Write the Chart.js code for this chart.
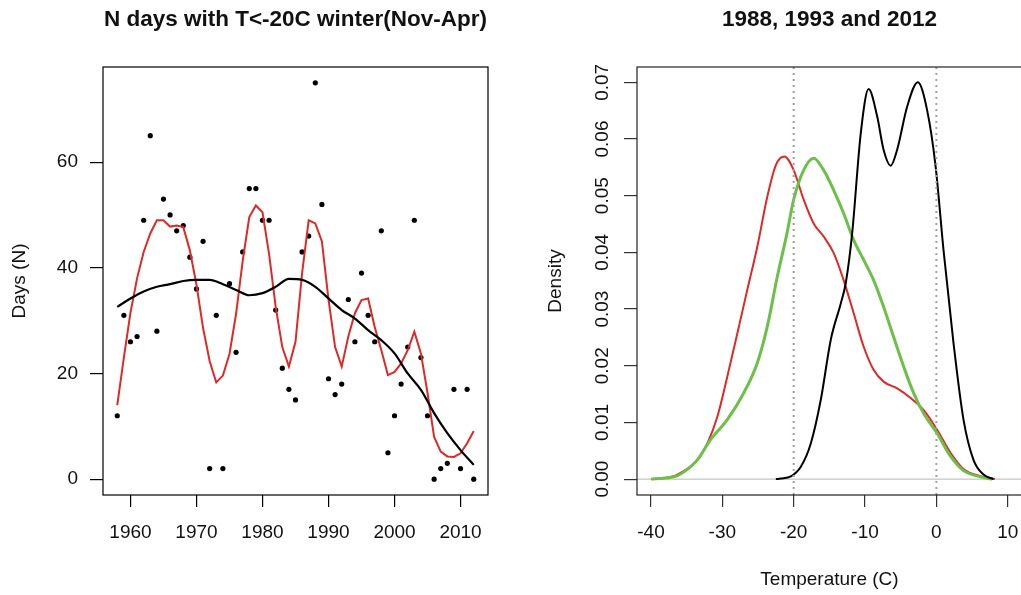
<!DOCTYPE html>
<html>
<head>
<meta charset="utf-8">
<script src="https://cdn.jsdelivr.net/npm/chart.js@4.4.0/dist/chart.umd.min.js"></script>
<style>
    html, body { margin: 0; padding: 0; background: #fff; overflow: hidden; width: 1021px; height: 595px; }
    #left { position: absolute; left: 0; top: 0; width: 510px; height: 595px; }
    #right { position: absolute; left: 510px; top: 0; width: 540px; height: 595px; }
</style>
</head>
<body>
<div id="left"><canvas id="daysChart"></canvas></div>
<div id="right"><canvas id="densityChart"></canvas></div>
<script>
// Left panel: days below -20C per winter
const years = [1958, 1959, 1960, 1961, 1962, 1963, 1964, 1965, 1966, 1967, 1968, 1969, 1970, 1971, 1972, 1973, 1974, 1975, 1976, 1977,
    1978, 1979, 1980, 1981, 1982, 1983, 1984, 1985, 1986, 1987, 1988, 1989, 1990, 1991, 1992, 1993, 1994, 1995, 1996, 1997,
    1998, 1999, 2000, 2001, 2002, 2003, 2004, 2005, 2006, 2007, 2008, 2009, 2010, 2011, 2012];
const coldDays = [12, 31, 26, 27, 49, 65, 28, 53, 50, 47, 48, 42, 36, 45, 2, 31, 2, 37, 24, 43,
    55, 55, 49, 49, 32, 21, 17, 15, 43, 46, 75, 52, 19, 16, 18, 34, 26, 39, 31, 26,
    47, 5, 12, 18, 25, 49, 23, 12, 0, 2, 3, 17, 2, 17, 0];
const smoothDays = [14, 23, 31.5, 38, 43, 46.5, 49, 49, 47.8, 48, 47.7, 43.3, 36.8, 28.6, 22.3, 18.3, 19.6, 23.7, 31.3, 41.3,
    49.6, 51.8, 50.5, 42.6, 32.6, 25, 21.3, 26, 39, 49, 48.4, 45, 34, 25, 21.3, 27, 31.4, 33.9, 34.2, 28.8,
    24.4, 19.7, 20.3, 21.9, 24.4, 27.9, 23.8, 16.3, 8, 5.2, 4.3, 4.2, 4.9, 6.8, 9.1];
const trendYears = [1958, 1960, 1962, 1964, 1966, 1968, 1970, 1972, 1974, 1976, 1978, 1980, 1982, 1984,
    1986, 1988, 1990, 1992, 1994, 1996, 1998, 2000, 2002, 2004, 2006, 2008, 2010, 2012];
const trendDays = [32.6, 34.2, 35.5, 36.4, 36.9, 37.5, 37.7, 37.7, 36.9, 35.8, 34.8, 35.2, 36.4, 37.9,
    37.7, 36.4, 34.2, 32, 30.4, 28.2, 26.3, 23.8, 20, 16.9, 12.5, 8.7, 5.5, 2.7];
const yearTicks = [1960, 1970, 1980, 1990, 2000, 2010];
const dayTicks = [0, 20, 40, 60];

// Right panel: temperature densities
const redTemps = [-40, -38, -36.3, -33.5, -32.1, -30.7, -29.3, -27.9, -26.5, -25.1, -23.7, -22.5, -21.3, -20, -18.6, -17.2,
    -15.8, -14.4, -13, -11.6, -10.2, -8.8, -7.4, -5.5, -3.6, -1.8, 0.1, 2, 3.8, 6.2, 8.2];
const redDensity = [0, 0.0002, 0.0008, 0.0034, 0.0063, 0.011, 0.0181, 0.0257, 0.0334, 0.041, 0.0498, 0.0554, 0.0569, 0.0545, 0.0493, 0.0451,
    0.0428, 0.0399, 0.0351, 0.0293, 0.0234, 0.0193, 0.0172, 0.016, 0.0143, 0.0122, 0.0087, 0.0046, 0.0018, 0.0005, 0];
const greenTemps = [-40, -38, -36.3, -33.5, -31.7, -29.3, -27, -25.1, -23.7, -22.3, -21, -20, -18.6, -17.2, -15.8, -14.4,
    -13, -11.6, -10.2, -8.8, -7.4, -6, -4.6, -3.2, -1.8, 0.1, 2, 3.8, 6.2, 7.8];
const greenDensity = [0, 0.0002, 0.0006, 0.0034, 0.0069, 0.0105, 0.0152, 0.0205, 0.0269, 0.0357, 0.043, 0.0493, 0.0545, 0.0566, 0.0545, 0.051,
    0.0469, 0.0422, 0.0387, 0.0351, 0.0304, 0.0251, 0.0199, 0.0152, 0.0116, 0.0081, 0.004, 0.0015, 0.0004, 0];
const blackTemps = [-22.5, -21.8, -20.4, -19, -17.6, -16.2, -14.8, -13.4, -12.7, -11.8, -10.6, -9.5, -8.3, -7.4, -6.4, -5.5,
    -4.1, -2.6, -1.3, -0.1, 1, 2.4, 3.8, 5.2, 6.6, 8];
const blackDensity = [0, 0.0001, 0.0005, 0.0022, 0.0063, 0.014, 0.0246, 0.031, 0.0346, 0.0434, 0.061, 0.0688, 0.064, 0.0581, 0.0553, 0.0581,
    0.0657, 0.07, 0.0651, 0.0551, 0.0404, 0.024, 0.0105, 0.0034, 0.0008, 0];
const tempTicks = [-40, -30, -20, -10, 0, 10];
const densityTicks = [0, 0.01, 0.02, 0.03, 0.04, 0.05, 0.06, 0.07];
const refTemps = [-20, 0];

const FONT = "'Liberation Sans', Arial, sans-serif";
const toPoints = (xs, ys) => xs.map((x, i) => ({ x: x, y: ys[i] }));

// draws the R style box round the plot region and the panel title
const panelPlugin = {
    id: 'panel',
    afterDraw(chart, args, opts) {
        const { ctx, chartArea } = chart;
        ctx.save();
        ctx.strokeStyle = opts.boxColor || '#000';
        ctx.lineWidth = 1.2;
        ctx.strokeRect(chartArea.left, chartArea.top, chartArea.right - chartArea.left, chartArea.bottom - chartArea.top);
        ctx.fillStyle = '#111';
        ctx.font = 'bold 22.5px ' + FONT;
        ctx.textAlign = 'center';
        ctx.textBaseline = 'middle';
        ctx.fillText(opts.title, (chartArea.left + chartArea.right) / 2, 20);
        ctx.restore();
    }
};

// y tick labels written along the axis (R las=0)
const sideLabelsPlugin = {
    id: 'sideLabels',
    afterDraw(chart, args, opts) {
        const { ctx } = chart;
        const scale = chart.scales.y;
        ctx.save();
        ctx.fillStyle = '#111';
        ctx.font = '19px ' + FONT;
        ctx.textAlign = 'center';
        ctx.textBaseline = 'middle';
        opts.values.forEach(v => {
            const y = scale.getPixelForValue(v);
            ctx.save();
            ctx.translate(opts.x, y);
            ctx.rotate(-Math.PI / 2);
            ctx.fillText(v.toFixed(2), 0, 0);
            ctx.restore();
        });
        ctx.restore();
    }
};

Chart.defaults.font.family = FONT;
Chart.defaults.color = '#111';

const tickFont = { size: 19, family: FONT };

new Chart(document.getElementById('daysChart'), {
    type: 'scatter',
    data: {
        datasets: [
            {
                label: 'trend',
                data: toPoints(trendYears, trendDays),
                showLine: true,
                borderColor: '#000',
                borderWidth: 2.2,
                pointRadius: 0,
                tension: 0.4,
                cubicInterpolationMode: 'monotone'
            },
            {
                label: 'smooth',
                data: toPoints(years, smoothDays),
                showLine: true,
                borderColor: '#dd2a26',
                borderWidth: 2,
                pointRadius: 0,
                tension: 0
            },
            {
                label: 'days',
                data: toPoints(years, coldDays),
                backgroundColor: '#000',
                borderWidth: 0,
                pointRadius: 2.6
            }
        ]
    },
    options: {
        responsive: true,
        maintainAspectRatio: false,
        animation: false,
        layout: { padding: { top: 67, right: 22, bottom: 0, left: 0 } },
        plugins: {
            legend: { display: false },
            tooltip: { enabled: false },
            panel: { title: 'N days with T<-20C winter(Nov-Apr)' }
        },
        scales: {
            x: {
                type: 'linear',
                min: 1955.84,
                max: 2014.16,
                afterBuildTicks: s => { s.ticks = yearTicks.map(v => ({ value: v })); },
                afterFit: s => { s.height = 100; },
                border: { display: false },
                grid: { drawOnChartArea: false, tickLength: 12, tickColor: '#000', lineWidth: 1.2 },
                ticks: { font: tickFont, color: '#111', padding: 14, maxRotation: 0, autoSkip: false, callback: v => String(v) }
            },
            y: {
                min: -3,
                max: 78,
                afterBuildTicks: s => { s.ticks = dayTicks.map(v => ({ value: v })); },
                afterFit: s => { s.width = 103; },
                border: { display: false },
                grid: { drawOnChartArea: false, tickLength: 13, tickColor: '#000', lineWidth: 1.2 },
                ticks: { font: tickFont, color: '#111', padding: 12, autoSkip: false },
                title: { display: true, text: 'Days (N)', font: { size: 19 }, color: '#111', padding: { top: 8.6, bottom: 0 } }
            }
        }
    },
    plugins: [panelPlugin]
});

const densMin = -0.0028, densMax = 0.0727;
const tempMin = -41.96, tempMax = 12;

new Chart(document.getElementById('densityChart'), {
    type: 'scatter',
    data: {
        datasets: [
            ...refTemps.map(t => ({
                label: 'ref ' + t,
                data: [{ x: t, y: densMin }, { x: t, y: densMax }],
                showLine: true,
                borderColor: '#a89c9c',
                borderWidth: 2,
                borderDash: [2, 4],
                pointRadius: 0
            })),
            {
                label: 'black',
                data: toPoints(blackTemps, blackDensity),
                showLine: true,
                borderColor: '#000',
                borderWidth: 2,
                pointRadius: 0,
                cubicInterpolationMode: 'monotone'
            },
            {
                label: 'green',
                data: toPoints(greenTemps, greenDensity),
                showLine: true,
                borderColor: '#6cc04a',
                borderWidth: 3,
                pointRadius: 0,
                cubicInterpolationMode: 'monotone'
            },
            {
                label: 'red',
                data: toPoints(redTemps, redDensity),
                showLine: true,
                borderColor: '#dd2a26',
                borderWidth: 2,
                pointRadius: 0,
                cubicInterpolationMode: 'monotone'
            },
            {
                label: 'zero',
                data: [{ x: tempMin, y: 0 }, { x: tempMax, y: 0 }],
                showLine: true,
                borderColor: '#bdb4b4',
                borderWidth: 1,
                pointRadius: 0
            }
        ]
    },
    options: {
        responsive: true,
        maintainAspectRatio: false,
        animation: false,
        layout: { padding: { top: 67, right: 28, bottom: 0, left: 0 } },
        plugins: {
            legend: { display: false },
            tooltip: { enabled: false },
            panel: { title: '1988, 1993 and 2012', boxColor: '#222' },
            sideLabels: { values: densityTicks, x: 93 }
        },
        scales: {
            x: {
                type: 'linear',
                min: tempMin,
                max: tempMax,
                afterBuildTicks: s => { s.ticks = tempTicks.map(v => ({ value: v })); },
                afterFit: s => { s.height = 100; },
                border: { display: false },
                grid: { drawOnChartArea: false, tickLength: 12, tickColor: '#333', lineWidth: 1.2 },
                ticks: { font: tickFont, color: '#111', padding: 14, maxRotation: 0, autoSkip: false, callback: v => String(v) },
                title: { display: true, text: 'Temperature (C)', font: { size: 19 }, color: '#111', padding: { top: 0, bottom: 3.6 } }
            },
            y: {
                min: densMin,
                max: densMax,
                afterBuildTicks: s => { s.ticks = densityTicks.map(v => ({ value: v })); },
                afterFit: s => { s.width = 127; },
                border: { display: false },
                grid: { drawOnChartArea: false, tickLength: 13, tickColor: '#333', lineWidth: 1.2 },
                ticks: { display: false },
                title: { display: true, text: 'Density', font: { size: 19 }, color: '#111', padding: { top: 34.6, bottom: 0 } }
            }
        }
    },
    plugins: [panelPlugin, sideLabelsPlugin]
});
</script>
</body>
</html>
